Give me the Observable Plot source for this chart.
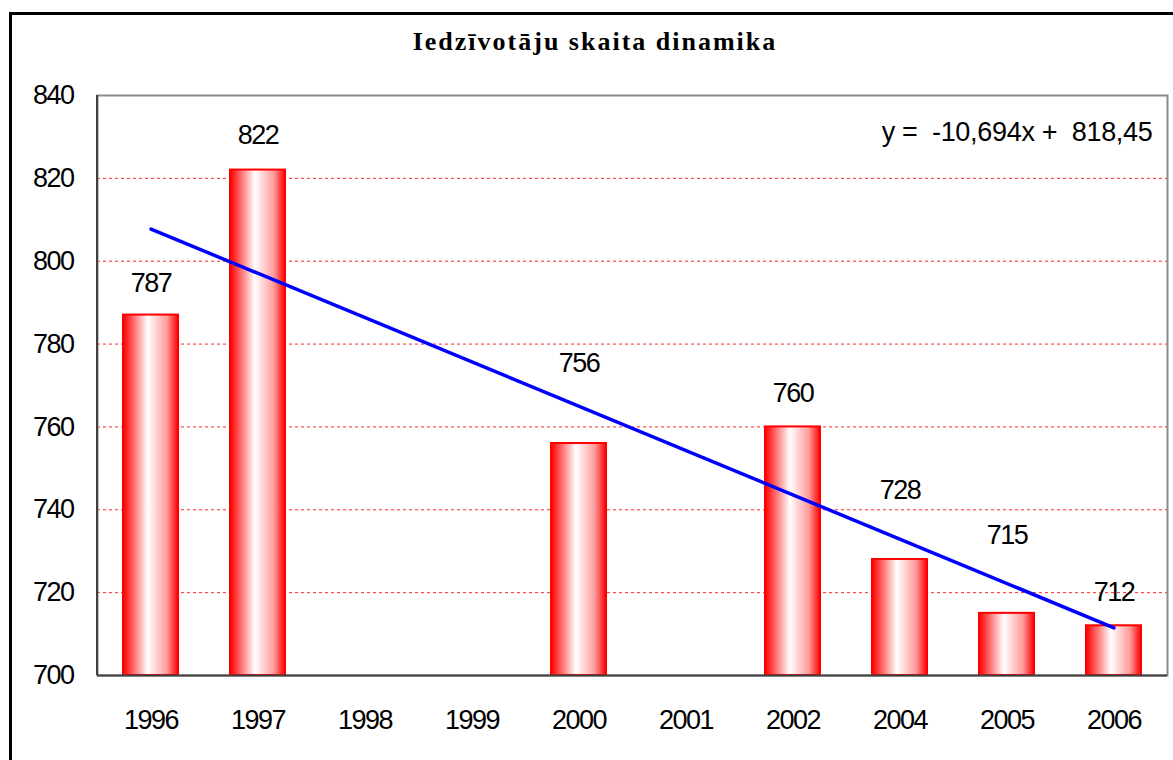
<!DOCTYPE html>
<html>
<head>
<meta charset="utf-8">
<script src="https://cdn.jsdelivr.net/npm/d3@7"></script>
<script src="https://cdn.jsdelivr.net/npm/@observablehq/plot@0.6"></script>
<style>
  html, body { margin: 0; padding: 0; background: #fff; }
  #wrap { position: relative; width: 1173px; height: 760px; overflow: hidden; background: #fff; }
  #border { position: absolute; left: 9px; top: 12px; width: 1200px; height: 800px; border: 3px solid #000; box-sizing: border-box; pointer-events: none; }
  #title { position: absolute; left: 0; width: 1190px; top: 27px; text-align: center;
           font-family: "Liberation Serif", "Times New Roman", serif; font-weight: bold;
           font-size: 26px; letter-spacing: 2px; color: #000; line-height: 30px; }
  #chart { position: absolute; left: 0; top: 0; }
</style>
</head>
<body>
<div id="wrap">
  <div id="chart"></div>
  <div id="title">Iedzīvotāju skaita dinamika</div>
  <div id="border"></div>
</div>
<script>
// ---- data ----
const years = ["1996", "1997", "1998", "1999", "2000", "2001", "2002", "2004", "2005", "2006"];
const values = [787, 822, null, null, 756, null, 760, 728, 715, 712];
// y value (in axis units) where each data label sits, as placed in the original
const labelAt = [794.6, 830.3, null, null, 775.3, null, 768.1, 744.7, 733.8, 720.0];
const yTicks = [700, 720, 740, 760, 780, 800, 820, 840];
const gridTicks = [720, 740, 760, 780, 800, 820];
const yMin = 700, yMax = 840;

// ---- derived tables ----
const data = years.map((y, i) => ({year: y, idx: i + 1, value: values[i], labelAt: labelAt[i]}))
  .filter(d => d.value != null);

// least-squares linear trend over category index (as in the spreadsheet)
const mx = d3.mean(data, d => d.idx), my = d3.mean(data, d => d.value);
const slope = d3.sum(data, d => (d.idx - mx) * (d.value - my)) / d3.sum(data, d => (d.idx - mx) ** 2);
const intercept = my - slope * mx;
const trend = [0, years.length - 1].map(i => ({year: years[i], v: slope * (i + 1) + intercept}));
const eqText = "y =\u00a0 " + slope.toFixed(3).replace(".", ",") + "x +\u00a0 " + intercept.toFixed(2).replace(".", ",");

const ns = "http://www.w3.org/2000/svg";

const svg = Plot.plot({
  width: 1173,
  height: 760,
  marginLeft: 97,
  marginRight: 6,
  marginTop: 95,
  marginBottom: 85,
  style: {fontFamily: "'Liberation Sans', Arial, sans-serif", fontSize: "27px", letterSpacing: "-1.5px", color: "#000", background: "transparent"},
  x: {domain: years, paddingInner: 0.486, paddingOuter: 0.243, label: null},
  y: {domain: [yMin, yMax], label: null},
  marks: [
    Plot.ruleY(gridTicks, {stroke: "#ff0000", strokeWidth: 1, strokeDasharray: "3,3", strokeOpacity: 0.85}),
    Plot.frame({stroke: "#8a8a8a", strokeWidth: 2}),
    Plot.barY(data, {x: "year", y1: yMin, y2: "value", fill: "url(#barGrad)", stroke: "#ff0000", strokeWidth: 2}),
    Plot.line(trend, {x: "year", y: "v", stroke: "#0000ff", strokeWidth: 3.5}),
    Plot.text(data, {x: "year", y: "labelAt", text: d => String(d.value), fill: "#000", fontSize: 27}),
    Plot.text([eqText], {frameAnchor: "top-right", dx: -15, dy: 37, lineAnchor: "middle", textAnchor: "end", fill: "#000", fontSize: 27}),
    Plot.axisY(yTicks, {tickSize: 0, tickPadding: 24, fontSize: 27, label: null}),
    Plot.axisX({tickSize: 0, tickPadding: 34, fontSize: 27, label: null}),
    Plot.ruleY([yMin], {stroke: "#404040", strokeWidth: 2}),
    // left axis line
    () => {
      const l = document.createElementNS(ns, "line");
      l.setAttribute("x1", 97); l.setAttribute("x2", 97);
      l.setAttribute("y1", 95); l.setAttribute("y2", 675);
      l.setAttribute("stroke", "#404040"); l.setAttribute("stroke-width", 2);
      return l;
    }
  ]
});

// looser spacing for the trend equation, as in the original
svg.querySelectorAll("text").forEach(t => {
  if (t.textContent.startsWith("y =")) t.style.letterSpacing = "-0.3px";
});

// gradient for the bars
const defs = document.createElementNS(ns, "defs");
const grad = document.createElementNS(ns, "linearGradient");
grad.setAttribute("id", "barGrad");
grad.setAttribute("x1", "0"); grad.setAttribute("x2", "1");
grad.setAttribute("y1", "0"); grad.setAttribute("y2", "0");
[["0", "#ff0000"], ["0.08", "#ff2a2a"], ["0.45", "#ffffff"], ["0.8", "#ff9a9a"], ["1", "#ff0000"]].forEach(([o, c]) => {
  const s = document.createElementNS(ns, "stop");
  s.setAttribute("offset", o); s.setAttribute("stop-color", c);
  grad.appendChild(s);
});
defs.appendChild(grad);
svg.insertBefore(defs, svg.firstChild);

document.getElementById("chart").appendChild(svg);
</script>
</body>
</html>
